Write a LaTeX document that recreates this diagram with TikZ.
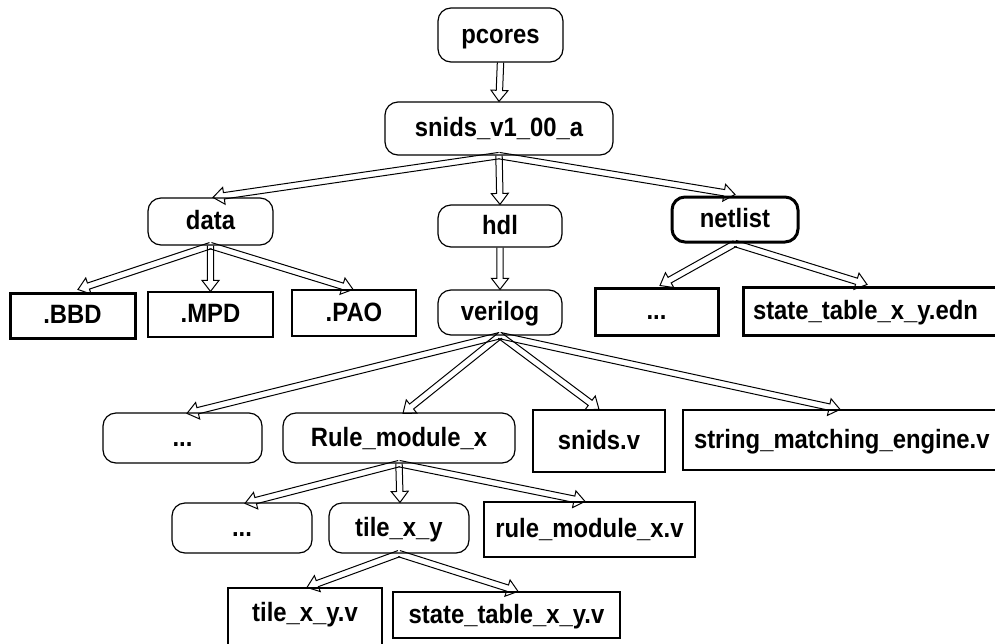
\documentclass[tikz,border=0pt]{standalone}
\usepackage{fontspec}
\setmainfont[FakeStretch=0.9]{Liberation Sans}
\usetikzlibrary{calc}

\tikzset{
  dirbox/.style={draw, line width=1.2pt, inner sep=0pt, align=center,
    font=\bfseries\fontsize{26.5}{30}\selectfont, text height=19pt, text depth=3pt},
  folder/.style={dirbox, rounded corners=13pt},
  heavy/.style={line width=3pt},
  linkline/.style={draw, line width=1pt, line join=miter},
}

% hollow block arrow drawn as an outline: shaft of two lines and an open head
\newcommand\treelink[2]{%
  \path (#1) coordinate (tl-s) (#2) coordinate (tl-t);
  \path ($(tl-t)!11pt!(tl-s)$) coordinate (tl-b);
  \draw[linkline]
    ($(tl-s)!3.2pt!90:(tl-t)$) -- ($(tl-b)!3.2pt!-90:(tl-s)$)
    -- ($(tl-b)!8.5pt!-90:(tl-s)$) -- (tl-t)
    -- ($(tl-b)!8.5pt!90:(tl-s)$) -- ($(tl-b)!3.2pt!90:(tl-s)$)
    -- ($(tl-s)!3.2pt!-90:(tl-t)$);
}

\begin{document}
\begin{tikzpicture}[x=1pt, y=-1pt]
\useasboundingbox (0,0) rectangle (995,643);

% top levels
\node[folder, minimum width=125pt, minimum height=54pt] (pcores) at (500.5,35) {pcores};
\node[folder, minimum width=228pt, minimum height=53pt] (snids) at (499,128.5) {snids\_v1\_00\_a};

% second level
\node[folder, minimum width=125pt, minimum height=47pt] (data) at (210.5,221.5) {data};
\node[folder, minimum width=124pt, minimum height=42pt] (hdl) at (500,226) {hdl};
\node[folder, heavy, minimum width=126pt, minimum height=45pt] (netlist) at (735,219.5) {netlist};

% contents of data
\node[dirbox, heavy, minimum width=125pt, minimum height=45pt] (bbd) at (72.5,315.5) {.BBD};
\node[dirbox, minimum width=125pt, minimum height=45pt] (mpd) at (210.5,314.5) {.MPD};
\node[dirbox, minimum width=124pt, minimum height=46pt] (pao) at (354,313) {.PAO};

% hdl
\node[folder, minimum width=124pt, minimum height=45pt] (verilog) at (500,312.5) {verilog};

% contents of netlist
\node[dirbox, heavy, minimum width=123pt, minimum height=47pt] (ndots) at (656.5,311.5) {...};
\node[dirbox, heavy, minimum width=262pt, minimum height=48pt, text width=262pt, align=left] (edn) at (874,311) {\hspace*{10pt}state\_table\_x\_y.edn};

% contents of verilog
\node[folder, minimum width=159pt, minimum height=50pt] (vdots) at (182.5,438) {...};
\node[folder, minimum width=232pt, minimum height=50pt] (rulemod) at (399,438) {Rule\_module\_x};
\node[dirbox, minimum width=132pt, minimum height=62pt] (snidsv) at (599,441) {snids.v};
\node[dirbox, minimum width=322pt, minimum height=60pt, text width=322pt, align=left] (sme) at (844,440) {\hspace*{11pt}string\_matching\_engine.v};

% contents of Rule_module_x
\node[folder, minimum width=140pt, minimum height=50pt] (rdots) at (242,528) {...};
\node[folder, minimum width=140pt, minimum height=50pt] (tile) at (399,528) {tile\_x\_y};
\node[dirbox, minimum width=211pt, minimum height=55pt] (rmv) at (589.5,529.5) {rule\_module\_x.v};

% contents of tile_x_y
\node[dirbox, minimum width=154pt, minimum height=72pt, text depth=25pt] (tilev) at (305,624) {tile\_x\_y.v};
\node[dirbox, minimum width=227pt, minimum height=46pt] (stv) at (506.5,615) {state\_table\_x\_y.v};

% connectors
\treelink{pcores.south}{snids.north}
\treelink{snids.south}{$(data.north)+(2.5,0)$}
\treelink{snids.south}{hdl.north}
\treelink{snids.south}{$(netlist.north)+(0,-1)$}
\treelink{data.south}{$(bbd.north)+(5.5,-2)$}
\treelink{data.south}{mpd.north}
\treelink{data.south}{$(pao.north)+(-1,0)$}
\treelink{hdl.south}{verilog.north}
\treelink{netlist.south}{$(ndots.north)+(3.5,-1)$}
\treelink{netlist.south}{$(edn.north)+(-7,-1)$}
\treelink{verilog.south}{$(vdots.north)+(4.5,1)$}
\treelink{verilog.south}{$(rulemod.north)+(4,1)$}
\treelink{verilog.south}{snidsv.north}
\treelink{verilog.south}{$(sme.north)+(-4,0)$}
\treelink{rulemod.south}{$(rdots.north)+(3,1)$}
\treelink{rulemod.south}{$(tile.north)+(1,0)$}
\treelink{rulemod.south}{$(rmv.north)+(-4.5,0)$}
\treelink{tile.south}{$(tilev.north)+(2,0)$}
\treelink{tile.south}{$(stv.north)+(11.5,0)$}
\end{tikzpicture}
\end{document}
